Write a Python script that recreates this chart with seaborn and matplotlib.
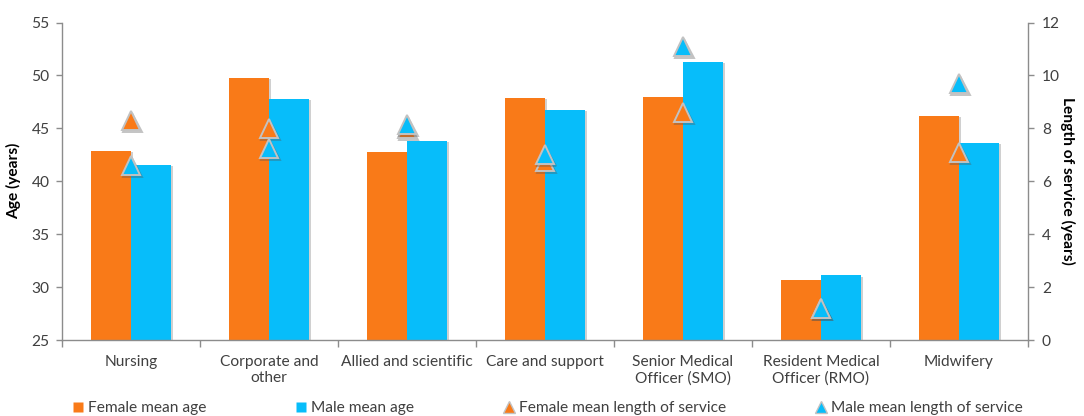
import numpy as np
import pandas as pd
import matplotlib
matplotlib.use("Agg")
import matplotlib.pyplot as plt
import matplotlib.patheffects as pe
from matplotlib.lines import Line2D
import seaborn as sns

# ---- data -------------------------------------------------------------
categories = [
    "Nursing",
    "Corporate and\nother",
    "Allied and scientific",
    "Care and support",
    "Senior Medical\nOfficer (SMO)",
    "Resident Medical\nOfficer (RMO)",
    "Midwifery",
]
female_age = [42.9, 49.8, 42.8, 47.9, 48.0, 30.7, 46.2]
male_age = [41.5, 47.8, 43.8, 46.7, 51.3, 31.1, 43.6]
female_service = [8.3, 8.0, 8.0, 6.75, 8.6, 1.2, 7.1]
male_service = [6.6, 7.25, 8.15, 7.0, 11.1, 1.2, 9.7]

age_ticks = [25, 30, 35, 40, 45, 50, 55]
service_ticks = [0, 2, 4, 6, 8, 10, 12]

ORANGE = "#F97A18"
BLUE = "#07BDFA"
SPINE = "#8C8C8C"
TEXT = "#404040"
FS = 11.2

ages = pd.DataFrame({
    "category": categories * 2,
    "sex": ["Female"] * len(categories) + ["Male"] * len(categories),
    "age": female_age + male_age,
})
service = pd.DataFrame({
    "category": categories * 2,
    "sex": ["Female"] * len(categories) + ["Male"] * len(categories),
    "years": female_service + male_service,
})

# ---- style --------------------------------------------------------------
sns.set_style("white")
plt.rcParams["font.family"] = ["Lato", "DejaVu Sans"]
plt.rcParams["font.size"] = FS

fig = plt.figure(figsize=(10.84, 4.16), dpi=100)
ax = fig.add_axes([62 / 1084, 1 - 340 / 416, (1028 - 62) / 1084, (340 - 22.5) / 416])

# ---- bars: mean age (left axis) -----------------------------------------
sns.barplot(
    data=ages, x="category", y="age", hue="sex", order=categories,
    hue_order=["Female", "Male"], palette=[ORANGE, BLUE], width=0.58,
    saturation=1, edgecolor="none", linewidth=0, legend=False, ax=ax,
)
for bar in ax.patches:
    bar.set_path_effects([
        pe.SimplePatchShadow(offset=(1.2, -0.8), shadow_rgbFace="#7a7a7a", alpha=0.35),
        pe.Normal(),
    ])

ax.set_ylim(age_ticks[0], age_ticks[-1])
ax.set_yticks(age_ticks)
ax.set_xlim(-0.5, len(categories) - 0.5)
ax.set_xticks(np.arange(-0.5, len(categories), 1.0), minor=True)
ax.set_xlabel("")
ax.set_ylabel("Age (years)", fontweight="bold", color="black", labelpad=7)

# ---- triangles: mean length of service (right axis) ---------------------
ax2 = ax.twinx()
sns.pointplot(
    data=service, x="category", y="years", hue="sex", order=categories,
    hue_order=["Female", "Male"], palette=[ORANGE, BLUE], markers="^",
    linestyles="none", dodge=False, errorbar=None, legend=False, ax=ax2,
    markersize=13.5, markeredgewidth=1.4,
)
for line in ax2.lines:
    line.set_markeredgecolor("#C2C2C2")
    line.set_path_effects([
        pe.SimpleLineShadow(offset=(1.0, -1.5), shadow_color="#555555", alpha=0.35),
        pe.Normal(),
    ])
ax2.set_ylim(service_ticks[0], service_ticks[-1])
ax2.set_yticks(service_ticks)
ax2.set_xlim(-0.5, len(categories) - 0.5)
ax2.set_ylabel("Length of service (years)", fontweight="bold", color="black",
               rotation=270, labelpad=11)

# ---- axes cosmetics ------------------------------------------------------
for a in (ax, ax2):
    for s in a.spines.values():
        s.set_visible(False)
ax.spines["left"].set_visible(True)
ax.spines["bottom"].set_visible(True)
ax2.spines["right"].set_visible(True)
for s in (ax.spines["left"], ax.spines["bottom"], ax2.spines["right"]):
    s.set_color(SPINE)
    s.set_linewidth(1.0)

ax.tick_params(axis="y", which="major", left=True, length=4, width=1,
               color=SPINE, labelcolor=TEXT, labelsize=FS, pad=5)
ax.tick_params(axis="x", which="major", length=0, labelcolor=TEXT,
               labelsize=FS, pad=11)
ax.tick_params(axis="x", which="minor", bottom=True, length=5, width=1,
               color=SPINE, direction="out")
ax2.tick_params(axis="y", which="major", right=True, length=4, width=1,
                color=SPINE, labelcolor=TEXT, labelsize=FS, pad=6)
ax.grid(False)
ax2.grid(False)

# ---- legend --------------------------------------------------------------
handles = [
    Line2D([], [], linestyle="none", marker="s", markersize=7,
           markerfacecolor=ORANGE, markeredgecolor="none"),
    Line2D([], [], linestyle="none", marker="s", markersize=7,
           markerfacecolor=BLUE, markeredgecolor="none"),
    Line2D([], [], linestyle="none", marker="^", markersize=8,
           markerfacecolor=ORANGE, markeredgecolor="#C2C2C2", markeredgewidth=1.0),
    Line2D([], [], linestyle="none", marker="^", markersize=8,
           markerfacecolor=BLUE, markeredgecolor="#C2C2C2", markeredgewidth=1.0),
]
labels = ["Female mean age", "Male mean age",
          "Female mean length of service", "Male mean length of service"]
fig.legend(
    handles, labels, ncol=4, loc="center", bbox_to_anchor=(548 / 1084, 1 - 408 / 416),
    frameon=False, handlelength=0.6, handletextpad=0.35, columnspacing=5.8,
    fontsize=FS, labelcolor=TEXT, borderaxespad=0, borderpad=0,
)

fig.savefig("out.png", dpi=100)
